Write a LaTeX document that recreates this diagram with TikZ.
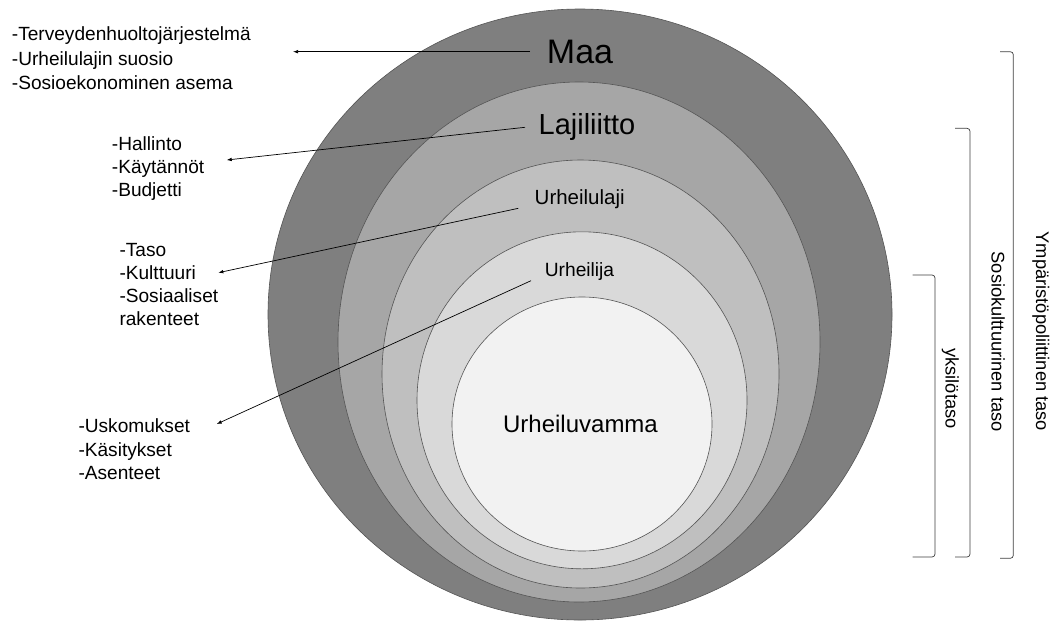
\documentclass[tikz,border=0pt]{standalone}
\usepackage{fontspec}
\setmainfont{Liberation Sans}
\usetikzlibrary{arrows.meta,shapes.geometric}
\definecolor{ringA}{HTML}{7F7F7F}
\definecolor{ringB}{HTML}{A6A6A6}
\definecolor{ringC}{HTML}{BFBFBF}
\definecolor{ringD}{HTML}{D9D9D9}
\definecolor{ringE}{HTML}{F2F2F2}
\definecolor{ringline}{HTML}{555555}
\definecolor{brkline}{HTML}{404040}
\newcommand{\grp}[2]{{\fontsize{19.1}{#1}\selectfont\begin{tabular}[t]{@{}l@{}}#2\end{tabular}}}
\tikzset{
  ring/.style={ellipse, draw=ringline, line width=0.6pt, inner sep=0pt},
  lbl/.style={inner sep=0pt, anchor=base},
  side/.style={inner sep=0pt, anchor=base west},
  ptr/.style={line width=0.7pt, -{Latex[length=5pt,width=3.6pt]}},
  brk/.style={draw=brkline, line width=0.7pt, rounded corners=3pt},
  lvl/.style={inner sep=0pt, rotate=-90, anchor=base, font=\fontsize{18.3}{22}\selectfont}
}
\begin{document}
\begin{tikzpicture}[x=1pt,y=-1pt]
\fill[white] (0,0) rectangle (1056,622);
\useasboundingbox (0,0) rectangle (1056,622);

% rings
\node[ring, fill=ringA, minimum width=624pt, minimum height=611pt] (rmaa) at (580,314.5) {};
\node[ring, fill=ringB, minimum width=482pt, minimum height=520pt] (rlaji) at (579,342) {};
\node[ring, fill=ringC, minimum width=397pt, minimum height=428pt] (rurl) at (580.5,374) {};
\node[ring, fill=ringD, minimum width=330pt, minimum height=337pt] (rurh) at (582,400.3) {};
\node[ring, fill=ringE, minimum width=260pt, minimum height=254pt] (rvam) at (582,424) {};

% ring labels
\node[lbl, font=\fontsize{34}{40}\selectfont] (maa) at (580,63.3) {Maa};
\node[lbl, font=\fontsize{29}{34}\selectfont] (laji) at (587,134.3) {Lajiliitto};
\node[lbl, font=\fontsize{20.5}{24}\selectfont] (urlaji) at (579.7,204) {Urheilulaji};
\node[lbl, font=\fontsize{19.2}{23}\selectfont] (urh) at (579.5,276) {Urheilija};
\node[lbl, font=\fontsize{24}{28}\selectfont] (vamma) at (580.5,432) {Urheiluvamma};

% side texts
\node[side] (g1) at (11.7,40.7) {\grp{24.5}{-Terveydenhuoltojärjestelmä\\-Urheilulajin suosio\\-Sosioekonominen asema}};
\node[side] (g2) at (111.7,150) {\grp{23.2}{-Hallinto\\-Käytännöt\\-Budjetti}};
\node[side] (g3) at (119.3,256) {\grp{23.3}{-Taso\\-Kulttuuri\\-Sosiaaliset\\rakenteet}};
\node[side] (g4) at (78.3,432.7) {\grp{23.3}{-Uskomukset\\-Käsitykset\\-Asenteet}};

% arrows
\coordinate (s1) at (530,51.7);   \coordinate (t1) at (293,51.7);
\coordinate (s2) at (525,127.3);  \coordinate (t2) at (226.7,160);
\coordinate (s3) at (518.3,208.3);\coordinate (t3) at (218.3,272.7);
\coordinate (s4) at (531,280.7);  \coordinate (t4) at (216.7,424);
\draw[ptr] (s1) -- (t1);
\draw[ptr] (s2) -- (t2);
\draw[ptr] (s3) -- (t3);
\draw[ptr] (s4) -- (t4);

% brackets
\draw[brk] (1000,51.7) -- (1013.3,51.7) -- (1013.3,558.3) -- (1000,558.3);
\draw[brk] (955,128.3) -- (970,128.3) -- (970,557) -- (955,557);
\draw[brk] (912.7,275) -- (935,275) -- (935,557) -- (912.7,557);

% level labels
\node[lvl] (lvl1) at (1036,331.4) {Ympäristöpoliittinen taso};
\node[lvl] (lvl2) at (991.7,341.7) {Sosiokulttuurinen taso};
\node[lvl] (lvl3) at (945.5,388.5) {yksilötaso};
\end{tikzpicture}
\end{document}
